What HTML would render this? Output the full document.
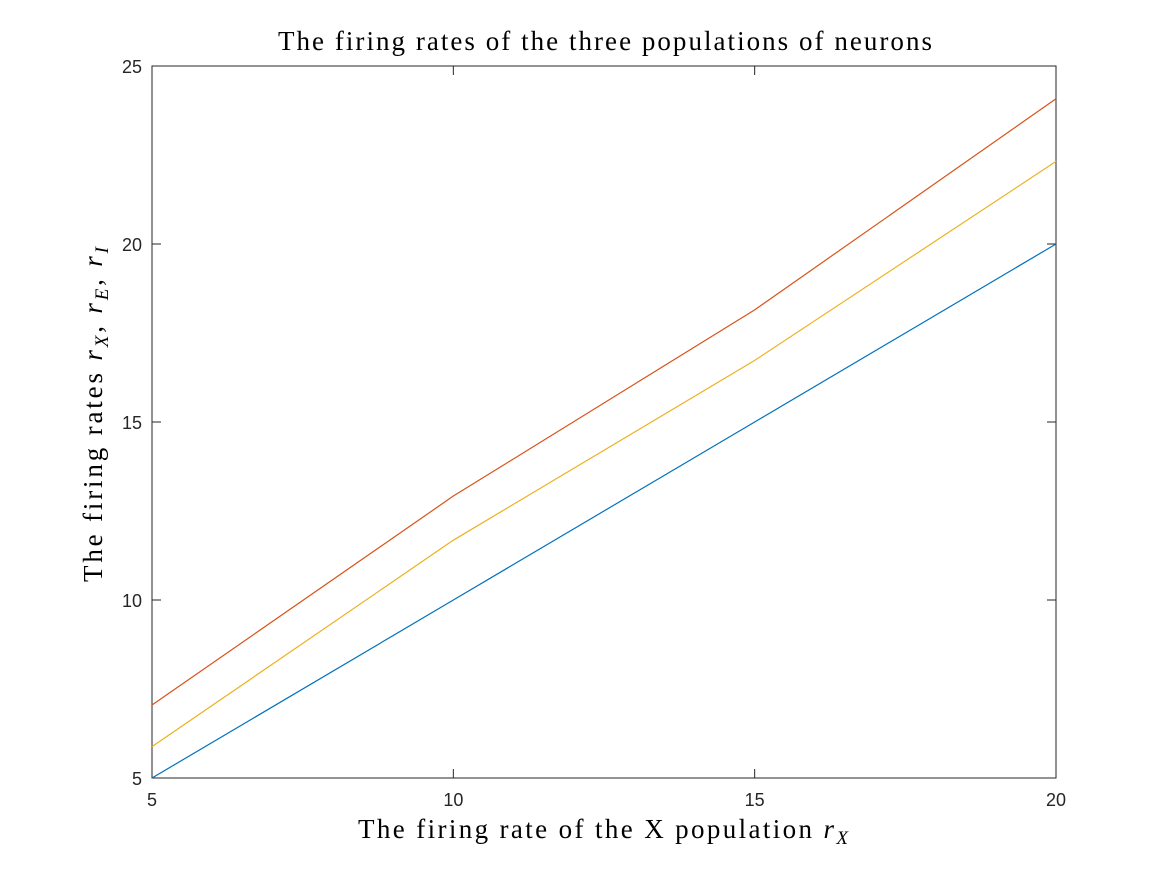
<!DOCTYPE html>
<html><head><meta charset="utf-8"><style>
body{margin:0;background:#fff;}
svg{display:block;}
.t{font-family:"Liberation Sans",sans-serif;font-size:18px;fill:#262626;}
.s{font-family:"Liberation Serif",serif;fill:#000;}
</style></head><body>
<svg id="chart" width="1167" height="875" viewBox="0 0 1167 875">
<rect x="0" y="0" width="1167" height="875" fill="#fff"/>
<g id="plot"></g>
<text class="s" x="278" y="50" font-size="27" textLength="654" lengthAdjust="spacing">The firing rates of the three populations of neurons</text>
<text class="s" x="358" y="838" font-size="27" textLength="490" lengthAdjust="spacing">The firing rate of the X population <tspan font-style="italic">r</tspan><tspan font-style="italic" font-size="19" dy="6">X</tspan></text>
<text class="s" transform="translate(102,582) rotate(-90)" font-size="27" textLength="335" lengthAdjust="spacing">The firing rates <tspan font-style="italic">r</tspan><tspan font-style="italic" font-size="19" dy="6">X</tspan><tspan dy="-6">, </tspan><tspan font-style="italic">r</tspan><tspan font-style="italic" font-size="19" dy="6">E</tspan><tspan dy="-6">, </tspan><tspan font-style="italic">r</tspan><tspan font-style="italic" font-size="19" dy="6">I</tspan></text>
</svg>
<script>
const xValues=[5,10,15,20];
const seriesX=[5,10,15,20];
const seriesE=[7.05,12.92,18.15,24.08];
const seriesI=[5.88,11.68,16.73,22.32];
const xTicks=[5,10,15,20];
const yTicks=[5,10,15,20,25];
const L=152,R=1056,T=66,B=778;
const xs=v=>L+(v-5)/15*(R-L);
const ys=v=>B-(v-5)/20*(B-T);
const NS="http://www.w3.org/2000/svg";
const g=document.getElementById('plot');
function mk(tag,attrs){const e=document.createElementNS(NS,tag);for(const k in attrs)e.setAttribute(k,attrs[k]);g.appendChild(e);return e;}
const box=mk('rect',{x:L,y:T,width:R-L,height:B-T,fill:'none',stroke:'#262626','stroke-width':1});


xTicks.forEach(v=>{
  const x=xs(v);
  const t1=mk('line',{x1:x,x2:x,y1:B,y2:B-9,stroke:'#262626'});
  
  
  const t2=mk('line',{x1:x,x2:x,y1:T,y2:T+9,stroke:'#262626'});
  
  
  const lb=mk('text',{x:x,y:B+28,'text-anchor':'middle',class:'t'});
  lb.textContent=v;
  
  
});
yTicks.forEach(v=>{
  const y=ys(v);
  const t1=mk('line',{x1:L,x2:L+9,y1:y,y2:y,stroke:'#262626'});
  
  
  const t2=mk('line',{x1:R,x2:R-9,y1:y,y2:y,stroke:'#262626'});
  
  
  const lb=mk('text',{x:L-10,y:y+7,'text-anchor':'end',class:'t'});
  lb.textContent=v;
  
  
});
[[seriesX,'#0072BD','line-rx'],[seriesE,'#D95319','line-re'],[seriesI,'#EDB120','line-ri']].forEach(([d,c,n])=>{
  const p=mk('polyline',{points:d.map((v,i)=>xs(xValues[i])+','+ys(v)).join(' '),fill:'none',stroke:c,'stroke-width':1.2});
  
  
});
</script>
</body></html>
